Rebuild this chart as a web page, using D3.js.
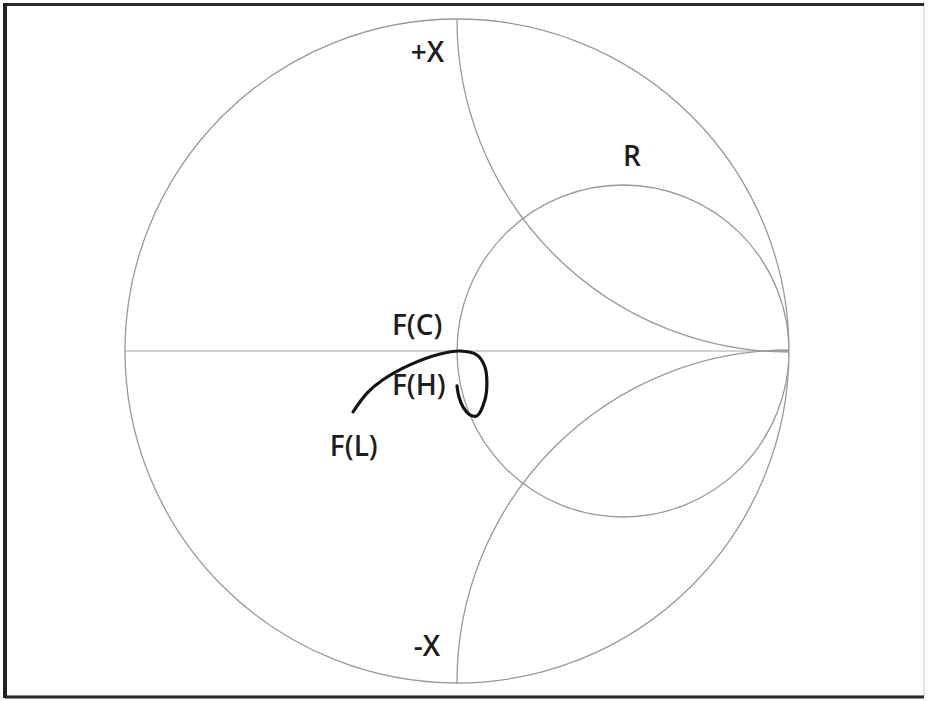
<!DOCTYPE html>
<html>
<head>
<meta charset="utf-8">
<script src="https://cdn.jsdelivr.net/npm/d3@7"></script>
<style>
  html, body { margin: 0; padding: 0; background: #fff; }
  svg { display: block; }
  text { font-family: "Open Sans", "DejaVu Sans", sans-serif; font-size: 28px; font-weight: 600; fill: #1e1e1e; }
</style>
</head>
<body>
<script>
// Reflection-coefficient trace (real, imaginary) from F(L) through F(C) to F(H)
const traceRe = [-0.313, -0.271, -0.223, -0.142, -0.051, 0.009, 0.060, 0.084, 0.090, 0.084, 0.060, 0.039, 0.018, 0.006, 0.000];
const traceIm = [-0.184, -0.127, -0.087, -0.042, -0.009, 0.000, -0.012, -0.048, -0.096, -0.148, -0.196, -0.193, -0.169, -0.139, -0.105];

// Chart annotations and their anchor points in the reflection plane
const labelText = ["+X", "-X", "R", "F(C)", "F(H)", "F(L)"];
const labelRe   = [-0.139, -0.130, 0.500, -0.196, -0.196, -0.383];
const labelIm   = [0.873, -0.922, 0.560, 0.048, -0.132, -0.316];

// Resistance circle r = 1 and reactance arcs x = +1, -1
const gridCircles = [
  { cx: 0.5, cy: 0, r: 0.5 },
  { cx: 1, cy: 1, r: 1 },
  { cx: 1, cy: -1, r: 1 }
];

const W = 928, H = 701;
const x = d3.scaleLinear().domain([-1, 1]).range([125, 789]);
const y = d3.scaleLinear().domain([-1, 1]).range([682, 20]);
const unit = x(1) - x(0);

const svg = d3.select("body").append("svg").attr("width", W).attr("height", H);

// frame
svg.append("rect").attr("x", 5).attr("y", 4).attr("width", 919).attr("height", 692)
  .attr("fill", "none").attr("stroke", "#ddd").attr("stroke-width", 1.5);
svg.append("line").attr("x1", 5).attr("y1", 4.5).attr("x2", 924).attr("y2", 4.5)
  .attr("stroke", "#2a2a2a").attr("stroke-width", 3);
svg.append("line").attr("x1", 5).attr("y1", 697).attr("x2", 924).attr("y2", 697)
  .attr("stroke", "#2a2a2a").attr("stroke-width", 3);
svg.append("line").attr("x1", 5).attr("y1", 3).attr("x2", 5).attr("y2", 698)
  .attr("stroke", "#222").attr("stroke-width", 4);

svg.append("clipPath").attr("id", "unit")
  .append("circle").attr("cx", x(0)).attr("cy", y(0)).attr("r", unit);

// real axis
svg.append("line")
  .attr("x1", x(-1)).attr("y1", y(0)).attr("x2", x(1)).attr("y2", y(0))
  .attr("stroke", "#c4c4c4").attr("stroke-width", 1.3);

// outer |Γ| = 1
svg.append("circle").attr("cx", x(0)).attr("cy", y(0)).attr("r", unit)
  .attr("fill", "none").attr("stroke", "#9a9a9a").attr("stroke-width", 1.3);

svg.append("g").attr("clip-path", "url(#unit)")
  .selectAll("circle").data(gridCircles).join("circle")
  .attr("cx", d => x(d.cx)).attr("cy", d => y(d.cy)).attr("r", d => d.r * unit)
  .attr("fill", "none").attr("stroke", "#9a9a9a").attr("stroke-width", 1.3);

// impedance trace
const pts = traceRe.map((re, i) => [x(re), y(traceIm[i])]);
svg.append("path")
  .attr("d", d3.line().curve(d3.curveCatmullRom.alpha(0.5))(pts))
  .attr("fill", "none").attr("stroke", "#141414").attr("stroke-width", 3.2)
  .attr("stroke-linecap", "round").attr("stroke-linejoin", "round");

svg.selectAll("text.lbl").data(labelText).join("text")
  .attr("class", "lbl")
  .attr("x", (d, i) => x(labelRe[i]))
  .attr("y", (d, i) => y(labelIm[i]))
  .text(d => d);
</script>
</body>
</html>
